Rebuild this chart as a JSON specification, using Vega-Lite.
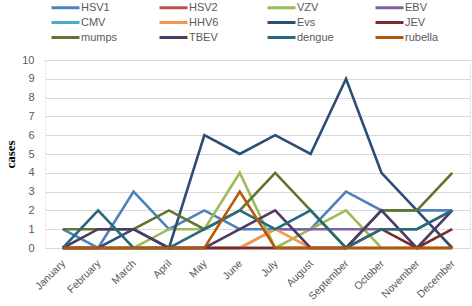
{
  "$schema": "https://vega.github.io/schema/vega-lite/v6.json",
  "width": 425,
  "height": 188,
  "autosize": {"type": "none"},
  "padding": {"left": 45, "top": 60, "right": 2, "bottom": 58},
  "background": "white",
  "config": {
    "view": {"stroke": "#D9D9D9", "strokeDash": [2, 2]},
    "font": "Liberation Sans"
  },
  "data": {"values": [
    {"m":"January","v":"HSV1","c":1},{"m":"February","v":"HSV1","c":0},{"m":"March","v":"HSV1","c":3},{"m":"April","v":"HSV1","c":1},{"m":"May","v":"HSV1","c":2},{"m":"June","v":"HSV1","c":1},{"m":"July","v":"HSV1","c":1},{"m":"August","v":"HSV1","c":1},{"m":"September","v":"HSV1","c":3},{"m":"October","v":"HSV1","c":2},{"m":"November","v":"HSV1","c":2},{"m":"December","v":"HSV1","c":2},
    {"m":"January","v":"HSV2","c":0},{"m":"February","v":"HSV2","c":0},{"m":"March","v":"HSV2","c":0},{"m":"April","v":"HSV2","c":0},{"m":"May","v":"HSV2","c":0},{"m":"June","v":"HSV2","c":0},{"m":"July","v":"HSV2","c":0},{"m":"August","v":"HSV2","c":0},{"m":"September","v":"HSV2","c":0},{"m":"October","v":"HSV2","c":0},{"m":"November","v":"HSV2","c":0},{"m":"December","v":"HSV2","c":0},
    {"m":"January","v":"VZV","c":0},{"m":"February","v":"VZV","c":0},{"m":"March","v":"VZV","c":0},{"m":"April","v":"VZV","c":1},{"m":"May","v":"VZV","c":1},{"m":"June","v":"VZV","c":4},{"m":"July","v":"VZV","c":0},{"m":"August","v":"VZV","c":1},{"m":"September","v":"VZV","c":2},{"m":"October","v":"VZV","c":0},{"m":"November","v":"VZV","c":0},{"m":"December","v":"VZV","c":0},
    {"m":"January","v":"EBV","c":0},{"m":"February","v":"EBV","c":0},{"m":"March","v":"EBV","c":0},{"m":"April","v":"EBV","c":0},{"m":"May","v":"EBV","c":0},{"m":"June","v":"EBV","c":0},{"m":"July","v":"EBV","c":1},{"m":"August","v":"EBV","c":1},{"m":"September","v":"EBV","c":1},{"m":"October","v":"EBV","c":1},{"m":"November","v":"EBV","c":1},{"m":"December","v":"EBV","c":2},
    {"m":"January","v":"CMV","c":0},{"m":"February","v":"CMV","c":0},{"m":"March","v":"CMV","c":0},{"m":"April","v":"CMV","c":0},{"m":"May","v":"CMV","c":0},{"m":"June","v":"CMV","c":0},{"m":"July","v":"CMV","c":0},{"m":"August","v":"CMV","c":0},{"m":"September","v":"CMV","c":0},{"m":"October","v":"CMV","c":0},{"m":"November","v":"CMV","c":0},{"m":"December","v":"CMV","c":0},
    {"m":"January","v":"HHV6","c":0},{"m":"February","v":"HHV6","c":0},{"m":"March","v":"HHV6","c":0},{"m":"April","v":"HHV6","c":0},{"m":"May","v":"HHV6","c":0},{"m":"June","v":"HHV6","c":0},{"m":"July","v":"HHV6","c":1},{"m":"August","v":"HHV6","c":0},{"m":"September","v":"HHV6","c":0},{"m":"October","v":"HHV6","c":0},{"m":"November","v":"HHV6","c":0},{"m":"December","v":"HHV6","c":0},
    {"m":"January","v":"Evs","c":0},{"m":"February","v":"Evs","c":0},{"m":"March","v":"Evs","c":1},{"m":"April","v":"Evs","c":0},{"m":"May","v":"Evs","c":6},{"m":"June","v":"Evs","c":5},{"m":"July","v":"Evs","c":6},{"m":"August","v":"Evs","c":5},{"m":"September","v":"Evs","c":9},{"m":"October","v":"Evs","c":4},{"m":"November","v":"Evs","c":2},{"m":"December","v":"Evs","c":0},
    {"m":"January","v":"JEV","c":0},{"m":"February","v":"JEV","c":0},{"m":"March","v":"JEV","c":0},{"m":"April","v":"JEV","c":0},{"m":"May","v":"JEV","c":0},{"m":"June","v":"JEV","c":0},{"m":"July","v":"JEV","c":0},{"m":"August","v":"JEV","c":0},{"m":"September","v":"JEV","c":0},{"m":"October","v":"JEV","c":1},{"m":"November","v":"JEV","c":0},{"m":"December","v":"JEV","c":1},
    {"m":"January","v":"mumps","c":1},{"m":"February","v":"mumps","c":1},{"m":"March","v":"mumps","c":1},{"m":"April","v":"mumps","c":2},{"m":"May","v":"mumps","c":1},{"m":"June","v":"mumps","c":2},{"m":"July","v":"mumps","c":4},{"m":"August","v":"mumps","c":2},{"m":"September","v":"mumps","c":0},{"m":"October","v":"mumps","c":2},{"m":"November","v":"mumps","c":2},{"m":"December","v":"mumps","c":4},
    {"m":"January","v":"TBEV","c":0},{"m":"February","v":"TBEV","c":1},{"m":"March","v":"TBEV","c":1},{"m":"April","v":"TBEV","c":0},{"m":"May","v":"TBEV","c":0},{"m":"June","v":"TBEV","c":1},{"m":"July","v":"TBEV","c":2},{"m":"August","v":"TBEV","c":0},{"m":"September","v":"TBEV","c":0},{"m":"October","v":"TBEV","c":2},{"m":"November","v":"TBEV","c":0},{"m":"December","v":"TBEV","c":2},
    {"m":"January","v":"dengue","c":0},{"m":"February","v":"dengue","c":2},{"m":"March","v":"dengue","c":0},{"m":"April","v":"dengue","c":0},{"m":"May","v":"dengue","c":1},{"m":"June","v":"dengue","c":2},{"m":"July","v":"dengue","c":1},{"m":"August","v":"dengue","c":2},{"m":"September","v":"dengue","c":0},{"m":"October","v":"dengue","c":1},{"m":"November","v":"dengue","c":1},{"m":"December","v":"dengue","c":2},
    {"m":"January","v":"rubella","c":0},{"m":"February","v":"rubella","c":0},{"m":"March","v":"rubella","c":0},{"m":"April","v":"rubella","c":0},{"m":"May","v":"rubella","c":0},{"m":"June","v":"rubella","c":3},{"m":"July","v":"rubella","c":0},{"m":"August","v":"rubella","c":0},{"m":"September","v":"rubella","c":0},{"m":"October","v":"rubella","c":0},{"m":"November","v":"rubella","c":0},{"m":"December","v":"rubella","c":0}
  ]},
  "mark": {"type": "line", "strokeWidth": 2.6},
  "encoding": {
    "x": {
      "field": "m", "type": "ordinal",
      "sort": ["January","February","March","April","May","June","July","August","September","October","November","December"],
      "scale": {"type": "point", "padding": 0.5},
      "axis": {"title": null, "labelAngle": -45, "labelColor": "#595959", "labelFontSize": 10.5, "ticks": false, "domainColor": "#D9D9D9", "labelPadding": 10, "labelOffset": -3, "grid": false}
    },
    "y": {
      "field": "c", "type": "quantitative",
      "scale": {"domain": [0, 10], "nice": false},
      "axis": {"title": "cases", "titleFont": "Liberation Serif", "titleFontWeight": "bold", "titleFontSize": 13, "titleColor": "#000000", "titlePadding": 4, "values": [0,1,2,3,4,5,6,7,8,9,10], "labelColor": "#595959", "labelFontSize": 11, "ticks": false, "domain": false, "gridColor": "#D9D9D9", "labelPadding": 11}
    },
    "color": {
      "field": "v", "type": "nominal",
      "scale": {
        "domain": ["HSV1","HSV2","VZV","EBV","CMV","HHV6","Evs","JEV","mumps","TBEV","dengue","rubella"],
        "range": ["#4F81BD","#C0504D","#9BBB59","#8064A2","#4BACC6","#F79646","#2C4D75","#772C2A","#5F7530","#4D3B62","#276A7C","#B65708"]
      },
      "legend": {
        "title": null, "orient": "none", "direction": "horizontal", "legendX": 12, "legendY": -61, "columns": 4,
        "symbolType": "M-2,0H2", "symbolSize": 196, "symbolStrokeWidth": 3,
        "labelFontSize": 11, "labelColor": "#595959", "labelOffset": 7,
        "columnPadding": 35, "rowPadding": -2, "gridAlign": "all"
      }
    }
  }
}
